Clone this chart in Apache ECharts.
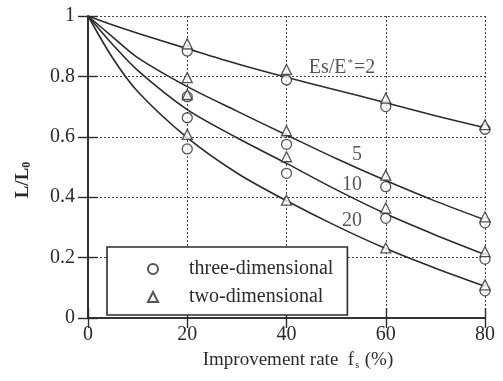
<!DOCTYPE html>
<html>
<head>
<meta charset="utf-8">
<script src="https://cdn.jsdelivr.net/npm/echarts@6/dist/echarts.min.js"></script>
<style>html,body{margin:0;padding:0;background:#fff}#c{width:503px;height:381px}</style>
</head>
<body>
<div id="c"></div>
<script>
// ---- data ----
const curveX = [0, 5, 10, 20, 30, 40, 50, 60, 70, 80];
const curve2 = [1, 0.97, 0.943, 0.892, 0.842, 0.797, 0.755, 0.713, 0.67, 0.63];
const curve5 = [1, 0.93, 0.862, 0.766, 0.685, 0.606, 0.528, 0.455, 0.387, 0.325];
const curve10 = [1, 0.905, 0.82, 0.69, 0.597, 0.512, 0.425, 0.345, 0.275, 0.21];
const curve20 = [1, 0.86, 0.75, 0.597, 0.48, 0.388, 0.305, 0.23, 0.165, 0.105];

const markX = [20, 40, 60, 80];
const circ2 = [0.884, 0.788, 0.70, 0.625];
const circ5 = [0.733, 0.575, 0.435, 0.315];
const circ10 = [0.663, 0.479, 0.33, 0.195];
const circ20 = [0.56, null, null, 0.09];
const tri2 = [0.908, 0.823, 0.728, 0.64];
const tri5 = [0.796, 0.62, 0.473, 0.335];
const tri10 = [0.74, 0.534, 0.364, 0.22];
const tri20 = [0.608, 0.39, 0.232, 0.11];

const curveNames = ['Es/E*=2', '5', '10', '20'];
const yTicks = ['0', '0.2', '0.4', '0.6', '0.8', '1'];
const xTicks = ['0', '20', '40', '60', '80'];

// ---- helpers ----
const pairs = (xs, ys) => xs.map((x, i) => [x, ys[i]]).filter(p => p[1] != null);
const ink = '#2b2b2b';
const serif = '"Liberation Serif", "DejaVu Serif", serif';

const lineSeries = [curve2, curve5, curve10, curve20].map(c => ({
  type: 'line', data: pairs(curveX, c), smooth: 0.3,
  symbol: 'none', lineStyle: { color: ink, width: 1.6 }, z: 2, silent: true
}));

const circles = [].concat(pairs(markX, circ2), pairs(markX, circ5), pairs(markX, circ10), pairs(markX, circ20));
const triangles = [].concat(pairs(markX, tri2), pairs(markX, tri5), pairs(markX, tri10), pairs(markX, tri20));

// label anchor points (data coordinates) for curve annotations
const labelPos = [[51.2, 0.828], [54.2, 0.54], [53.2, 0.44], [53.2, 0.322]];

const chart = echarts.init(document.getElementById('c'));
const axisCommon = {
  type: 'value',
  axisLine: { show: true, lineStyle: { color: ink, width: 1.6 } },
  axisTick: { show: true, inside: true, length: 10, lineStyle: { color: ink, width: 1.4 } },
  splitLine: { show: false }
};
chart.setOption({
  backgroundColor: '#fff',
  animation: false,
  grid: { left: 88, right: 18, top: 16, bottom: 63 },
  xAxis: [
    Object.assign({}, axisCommon, {
      position: 'bottom', min: 0, max: 80, interval: 20,
      axisLabel: { fontFamily: serif, fontSize: 20, color: ink, margin: 7,
        formatter: v => xTicks[Math.round(v / 20)] },
      splitLine: { show: true, lineStyle: { color: '#444', width: 1, type: [2, 2] } }
    }),
    Object.assign({}, axisCommon, {
      position: 'top', min: 0, max: 80, interval: 20, axisLabel: { show: false }
    })
  ],
  yAxis: [
    Object.assign({}, axisCommon, {
      position: 'left', min: 0, max: 1, interval: 0.2,
      axisLabel: { fontFamily: serif, fontSize: 20, color: ink, margin: 13,
        formatter: v => yTicks[Math.round(v / 0.2)] },
      splitLine: { show: true, lineStyle: { color: '#444', width: 1, type: [2, 2] } }
    }),
    Object.assign({}, axisCommon, {
      position: 'right', min: 0, max: 1, interval: 0.2, axisLabel: { show: false }
    })
  ],
  legend: {
    data: ['three-dimensional', 'two-dimensional'],
    orient: 'vertical', left: 107, top: 247,
    itemWidth: 10, itemHeight: 10, itemGap: 8,
    padding: [12, 14, 8, 40],
    backgroundColor: '#fff', borderColor: ink, borderWidth: 1.6,
    textStyle: { fontFamily: serif, fontSize: 20, color: ink, padding: [0, 0, 0, 26] }
  },
  series: lineSeries.concat([
    {
      name: 'three-dimensional', type: 'scatter', data: circles, symbol: 'circle', symbolSize: 10,
      itemStyle: { color: '#fff', borderColor: ink, borderWidth: 1.3 }, z: 3
    },
    {
      name: 'two-dimensional', type: 'scatter', data: triangles, symbol: 'triangle', symbolSize: 10,
      itemStyle: { color: '#fff', borderColor: ink, borderWidth: 1.3 }, z: 4
    },
    {
      type: 'scatter', symbolSize: 0, silent: true, z: 5,
      data: labelPos.map((p, i) => ({ value: p, name: curveNames[i] })),
      label: {
        show: true, position: 'inside', color: ink, fontFamily: serif, fontSize: 20,
        formatter: p => p.dataIndex === 0 ? '{t|Es/E}{s|*}{t|=2}' : '{t|' + p.name + '}',
        rich: {
          t: { fontFamily: serif, fontSize: 20, color: ink },
          s: { fontFamily: serif, fontSize: 11, color: ink, verticalAlign: 'top', padding: [0, 1, 8, 1] }
        }
      }
    }
  ]),
  graphic: [
    {
      type: 'text', x: 23, y: 180, rotation: Math.PI / 2,
      style: {
        text: '{t|L/L}{s|0}', align: 'center', verticalAlign: 'middle',
        rich: {
          t: { fontFamily: serif, fontSize: 19, fill: ink, fontWeight: 'bold' },
          s: { fontFamily: serif, fontSize: 12, fill: ink, fontWeight: 'bold', padding: [8, 0, 0, 0] }
        }
      }
    },
    {
      type: 'text', x: 298, y: 360,
      style: {
        text: '{t|Improvement rate  f}{s|s}{t| (%)}', align: 'center', verticalAlign: 'middle',
        rich: {
          t: { fontFamily: serif, fontSize: 19, fill: ink },
          s: { fontFamily: serif, fontSize: 10, fill: ink, padding: [10, 1, 0, 1] }
        }
      }
    }
  ]
});
</script>
</body>
</html>
